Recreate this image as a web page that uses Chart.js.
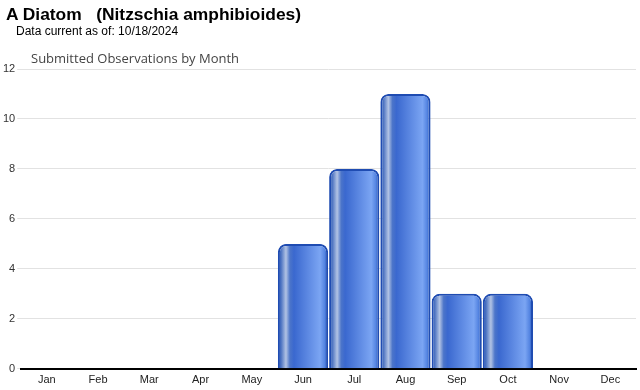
<!DOCTYPE html>
<html>
<head>
<meta charset="utf-8">
<script src="https://cdn.jsdelivr.net/npm/chart.js@4.4.1/dist/chart.umd.min.js"></script>
<style>
  body { margin: 0; background: #fff; font-family: "Liberation Sans", Arial, sans-serif; }
  #wrap { position: relative; width: 640px; height: 390px; }
  #titulo { position: absolute; left: 6px; top: 4px; font-size: 17.4px; font-weight: bold; color: #000; white-space: pre; }
  #data { position: absolute; left: 16px; top: 24px; font-size: 12px; color: #000; }
  #sub { position: absolute; left: 31px; top: 49px; font-size: 13px; color: #444; font-family: "Open Sans", sans-serif; }
  canvas { position: absolute; left: 0; top: 0; }
</style>
</head>
<body>
<div id="wrap">
  <canvas id="grafico" width="640" height="390"></canvas>
  <div id="titulo">A Diatom   (Nitzschia amphibioides)</div>
  <div id="data">Data current as of: 10/18/2024</div>
  <div id="sub">Submitted Observations by Month</div>
</div>
<script>
const meses = ['Jan', 'Feb', 'Mar', 'Apr', 'May', 'Jun', 'Jul', 'Aug', 'Sep', 'Oct', 'Nov', 'Dec'];
const observacoes = [0, 0, 0, 0, 0, 5, 8, 11, 3, 3, 0, 0];
const yMax = 12;
const yPasso = 2;

// gradiente "cilindro" para cada barra
function corBarra(ctx) {
  const chart = ctx.chart;
  const x = chart.scales.x;
  if (!chart.chartArea || !x) return '#3f6fd6';
  const centro = x.getPixelForValue(ctx.dataIndex);
  const larg = x.width / meses.length * 0.98;
  const g = chart.ctx.createLinearGradient(centro - larg / 2, 0, centro + larg / 2, 0);
  g.addColorStop(0, '#1d4cb0');
  g.addColorStop(0.07, '#5479c4');
  g.addColorStop(0.16, '#b2c3e4');
  g.addColorStop(0.24, '#4c75c9');
  g.addColorStop(0.32, '#3a68cf');
  g.addColorStop(0.84, '#7ba5f3');
  g.addColorStop(0.93, '#5585e2');
  g.addColorStop(1, '#1d4cb0');
  return g;
}

new Chart(document.getElementById('grafico'), {
  type: 'bar',
  data: {
    labels: meses,
    datasets: [{
      data: observacoes,
      backgroundColor: corBarra,
      borderColor: '#1f4cb2',
      borderWidth: 2,
      borderRadius: { topLeft: 8, topRight: 8, bottomLeft: 0, bottomRight: 0 },
      borderSkipped: 'bottom',
      barPercentage: 0.98,
      categoryPercentage: 1
    }]
  },
  options: {
    responsive: false,
    animation: false,
    layout: { padding: { top: 69, left: 1, right: 4, bottom: 1 } },
    plugins: { legend: { display: false }, tooltip: { enabled: false } },
    scales: {
      x: {
        grid: { display: false, drawTicks: true, tickLength: 3 },
        border: { display: true, color: '#000', width: 2 },
        ticks: { color: '#222', font: { family: 'Liberation Sans', size: 11 }, padding: 2 }
      },
      y: {
        min: 0, max: yMax,
        grid: { color: '#e2e2e2', drawTicks: true, tickLength: 4 },
        border: { display: false },
        ticks: { stepSize: yPasso, color: '#333', font: { family: 'Liberation Sans', size: 11 }, padding: 2 }
      }
    }
  }
});
</script>
</body>
</html>
